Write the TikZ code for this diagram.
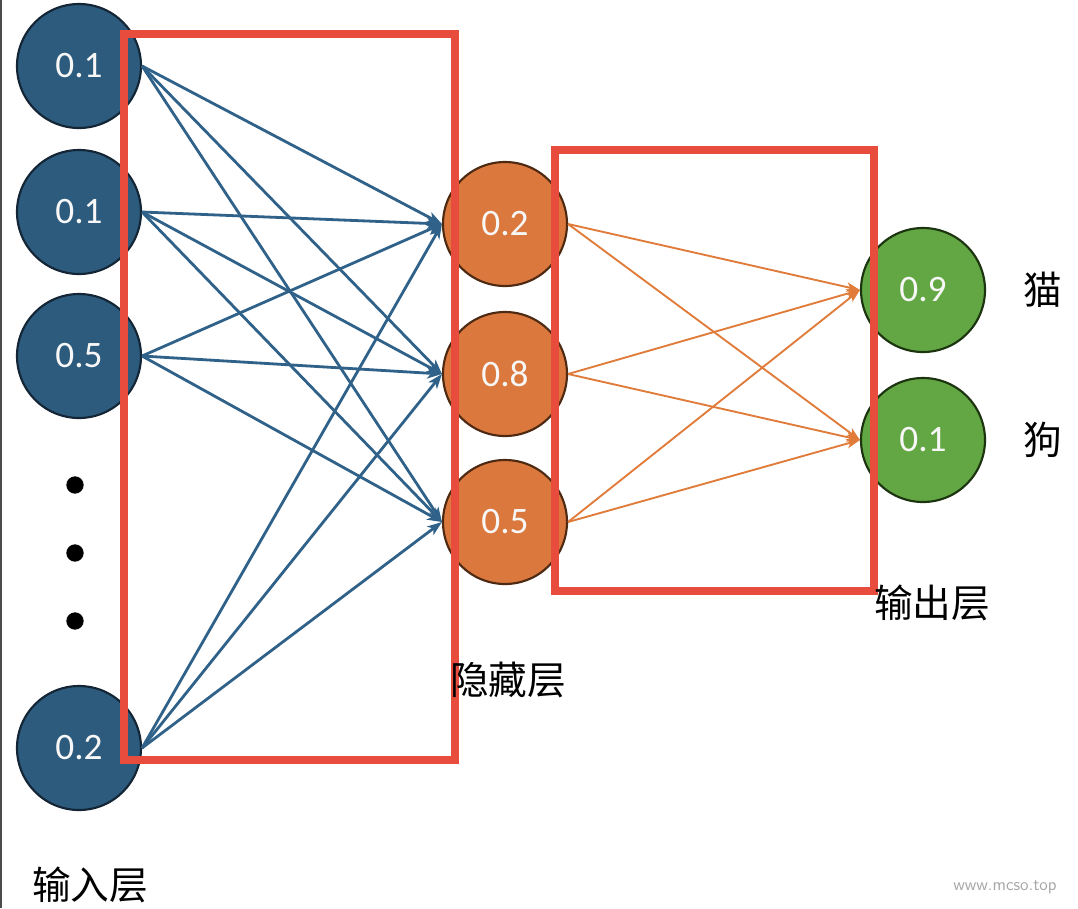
\documentclass[tikz,border=0pt]{standalone}
\usepackage{fontspec}
\newfontfamily\numfont{Carlito}
\newfontfamily\cjk{Noto Sans CJK SC}
\usetikzlibrary{arrows.meta}
\definecolor{inblue}{HTML}{2C5B7E}
\definecolor{inborder}{HTML}{142636}
\definecolor{hidor}{HTML}{DB783D}
\definecolor{hidborder}{HTML}{4E2A12}
\definecolor{outgreen}{HTML}{62A743}
\definecolor{outborder}{HTML}{1C3410}
\definecolor{bluearrow}{HTML}{2F6189}
\definecolor{orarrow}{HTML}{E07B39}
\definecolor{boxred}{HTML}{E84C3D}
\tikzset{
  neuron/.style={circle, minimum size=93pt, inner sep=0pt, line width=1.6pt,
    font=\numfont\fontsize{28}{30}\selectfont, text=white!94!gray},
  innode/.style={neuron, fill=inblue, draw=inborder},
  hidnode/.style={neuron, fill=hidor, draw=hidborder},
  outnode/.style={neuron, fill=outgreen, draw=outborder},
  bluelink/.style={draw=bluearrow, line width=2.1pt, -{Stealth[length=11pt,width=8pt,inset=3pt]}},
  orlink/.style={draw=orarrow, line width=1.4pt, -{Stealth[length=10pt,width=7pt,inset=2.5pt]}},
  redbox/.style={draw=boxred, line width=6.5pt},
  cjklabel/.style={font=\cjk\fontsize{29}{31}\selectfont, text=black, inner sep=0pt},
  dotmark/.style={circle, fill=black, minimum size=13pt, inner sep=0pt},
}
\begin{document}
\begin{tikzpicture}[x=0.75pt, y=-0.75pt]
\useasboundingbox (0,0) rectangle (1078,908);
\fill[white] (0,0) rectangle (1078,908);
\draw[gray!60!black, line width=1.5pt] (1,0) -- (1,908);

% input layer
\node[innode] (i1) at (79,66) {0.1};
\node[innode] (i2) at (79,212) {0.1};
\node[innode] (i3) at (79,356) {0.5};
\node[innode] (i4) at (79,748) {0.2};
\node[dotmark] (d1) at (75,485) {};
\node[dotmark] (d2) at (75,553) {};
\node[dotmark] (d3) at (75,621) {};

% hidden layer
\node[hidnode] (h1) at (505,224) {0.2};
\node[hidnode] (h2) at (505,374) {0.8};
\node[hidnode] (h3) at (505,522) {0.5};

% output layer
\node[outnode] (o1) at (923,290) {0.9};
\node[outnode] (o2) at (923,440) {0.1};

% connections input -> hidden
\foreach \i in {1,2,3,4}{
  \foreach \h in {1,2,3}{
    \draw[bluelink] (i\i.east) -- (h\h.west);
  }
}
% connections hidden -> output
\foreach \h in {1,2,3}{
  \foreach \o in {1,2}{
    \draw[orlink] (h\h.east) -- (o\o.west);
  }
}

% red boxes
\draw[redbox] (124,34) rectangle (455,760);
\draw[redbox] (555,150) rectangle (874,591);

% labels
\node[cjklabel] (cat) at (1043,290) {猫};
\node[cjklabel] (dog) at (1043,440) {狗};
\node[cjklabel] (outl) at (932,603) {输出层};
\node[cjklabel] (hidl) at (508,680) {隐藏层};
\node[cjklabel] (inl) at (90,885) {输入层};
\node[font=\sffamily\fontsize{13}{14}\selectfont, text=gray!70, inner sep=0pt] (wm) at (1005,887) {www.mcso.top};
\end{tikzpicture}
\end{document}
